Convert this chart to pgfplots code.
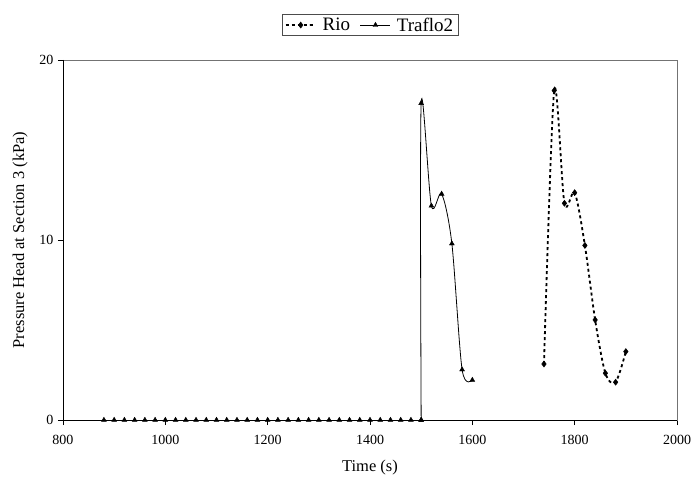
\documentclass[border=0pt]{standalone}
\usepackage{fontspec}
\setmainfont{Liberation Serif}
\usepackage{pgfplots}
\pgfplotsset{compat=1.18}

\begin{document}
\begin{tikzpicture}[x=1pt,y=1pt]
\useasboundingbox (-63,-59) rectangle (630,420);
\begin{axis}[at={(0,0)},anchor=south west,scale only axis,
  width=614pt,height=360pt,
  xmin=800,xmax=2000,ymin=0,ymax=20,
  xtick={800,1000,...,2000},ytick={0,10,20},
  /pgf/number format/1000 sep={},
  /pgf/number format/assume math mode=true,
  tick align=outside,xtick pos=bottom,ytick pos=left,
  major tick length=5pt,tick style={black,line width=0.8pt},
  axis line style={black!55,line width=0.8pt},
  tick label style={font=\fontsize{14}{16}\selectfont},
  xticklabel style={yshift=-7pt},
  yticklabel style={xshift=-1pt},
  label style={font=\fontsize{16.5}{18}\selectfont},
  xlabel={Time (s)},ylabel={Pressure Head at Section 3 (kPa)},
  xlabel style={yshift=-8pt},
  ylabel style={yshift=5pt},
  legend columns=-1,
  legend style={at={(axis description cs:0.5,1.097)},anchor=center,
    draw=black!70,line width=0.6pt,font=\fontsize{19}{21}\selectfont,
    inner xsep=3pt,inner ysep=1pt,
    /tikz/every odd column/.append style={column sep=4pt},
    /tikz/every even column/.append style={column sep=8pt}},
  legend image code/.code={\draw[mark repeat=2,mark phase=2]
    plot coordinates {(0pt,0pt)(15pt,0pt)(30pt,0pt)};},
  legend cell align=left,
  clip=false]
\addplot[black,line width=1.8pt,dash pattern=on 3pt off 3pt,smooth,
  mark=diamond*,mark size=3pt,mark options={solid,line width=0.5pt}]
  coordinates {(1740,3.11)(1760,18.3)(1780,12.04)(1800,12.63)(1820,9.7)
  (1840,5.56)(1860,2.6)(1880,2.1)(1900,3.8)};
\addlegendentry{Rio}
\addplot[black,line width=0.8pt,mark=triangle*,mark size=2.8pt,
  mark options={line width=0.4pt}]
  coordinates {(880,0)(900,0)(920,0)(940,0)(960,0)(980,0)(1000,0)
  (1020,0)(1040,0)(1060,0)(1080,0)(1100,0)(1120,0)(1140,0)(1160,0)
  (1180,0)(1200,0)(1220,0)(1240,0)(1260,0)(1280,0)(1300,0)(1320,0)
  (1340,0)(1360,0)(1380,0)(1400,0)(1420,0)(1440,0)(1460,0)(1480,0)
  (1500,0)};
\addlegendentry{Traflo2}
\addplot[black,line width=0.8pt,smooth,mark=triangle*,mark size=2.8pt,
  mark options={line width=0.4pt},forget plot]
  coordinates {(1500,0)(1500,17.6)(1520,11.9)(1540,12.56)(1560,9.8)
  (1580,2.8)(1600,2.22)};
\draw[black,line width=0.8pt] (rel axis cs:0,1) -- (rel axis cs:0,0) -- (rel axis cs:1,0);
\end{axis}
\end{tikzpicture}
\end{document}
